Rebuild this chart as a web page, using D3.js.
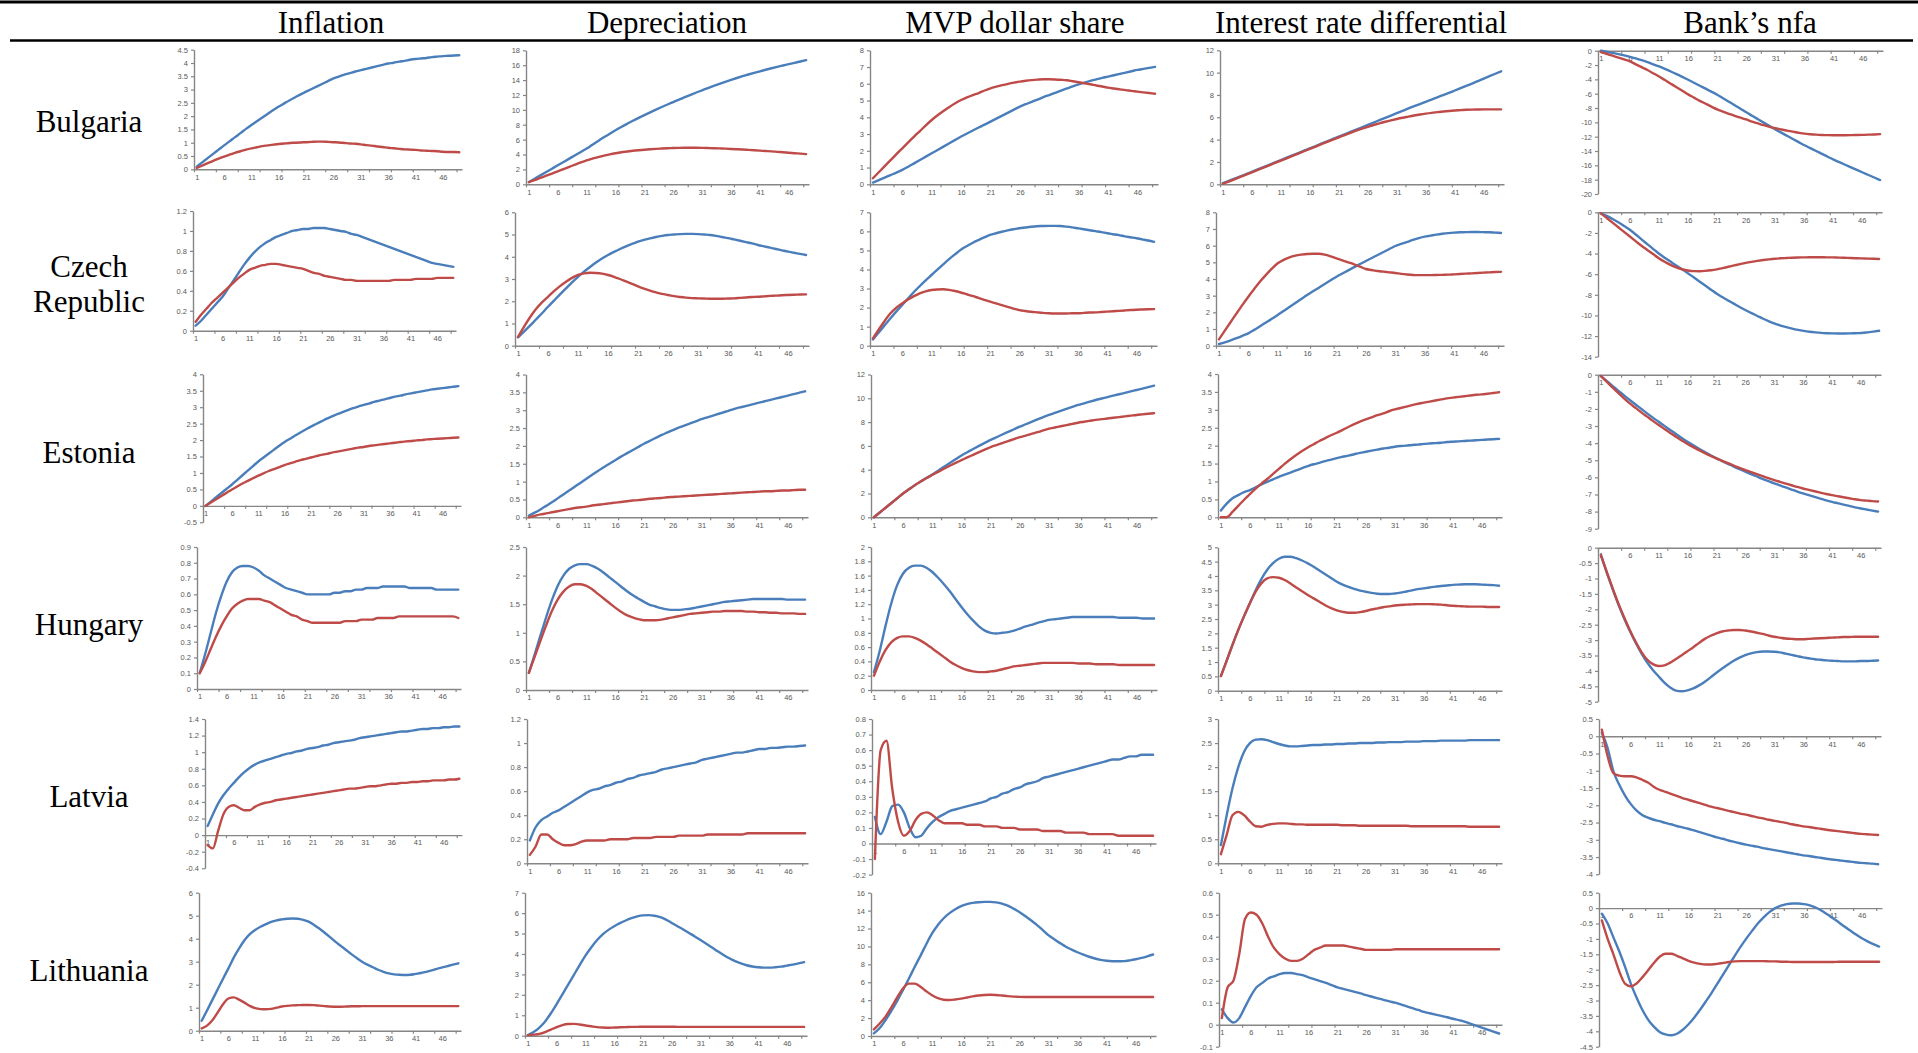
<!DOCTYPE html>
<html><head><meta charset="utf-8">
<script src="https://cdn.jsdelivr.net/npm/d3@7"></script>
<style>body{margin:0;background:#fff;} svg{display:block;}</style>
</head><body>
<svg id="c" width="1918" height="1053"></svg>
<script>
// ---------- DATA ----------
const periods = [1,2,3,4,5,6,7,8,9,10,11,12,13,14,15,16,17,18,19,20,21,22,23,24,25,26,27,28,29,30,31,32,33,34,35,36,37,38,39,40,41,42,43,44,45,46,47,48,49];
const xTickLabels = ["1","6","11","16","21","26","31","36","41","46"];
const variables = ["Inflation","Depreciation","MVP dollar share","Interest rate differential","Bank\u2019s nfa"];
const countries = [["Bulgaria"],["Czech","Republic"],["Estonia"],["Hungary"],["Latvia"],["Lithuania"]];

// y axis ranges [min, max, step]
const bgY = [[0,4.5,0.5],[0,18,2],[0,8,1],[0,12,2],[-20,0,2]];
const czY = [[0,1.2,0.2],[0,6,1],[0,7,1],[0,8,1],[-14,0,2]];
const eeY = [[-0.5,4,0.5],[0,4,0.5],[0,12,2],[0,4,0.5],[-9,0,1]];
const huY = [[0,0.9,0.1],[0,2.5,0.5],[0,2,0.2],[0,5,0.5],[-5,0,0.5]];
const lvY = [[-0.4,1.4,0.2],[0,1.2,0.2],[-0.2,0.8,0.1],[0,3,0.5],[-4,0.5,0.5]];
const ltY = [[0,6,1],[0,7,1],[0,16,2],[-0.1,0.6,0.1],[-4.5,0.5,0.5]];

// Bulgaria
const bgInflBlue = [0.10,0.26,0.42,0.58,0.74,0.90,1.05,1.21,1.36,1.52,1.67,1.81,1.95,2.09,2.23,2.36,2.48,2.60,2.71,2.82,2.92,3.02,3.12,3.22,3.32,3.42,3.49,3.56,3.62,3.68,3.73,3.78,3.83,3.88,3.93,3.98,4.01,4.05,4.08,4.12,4.15,4.17,4.19,4.22,4.24,4.26,4.27,4.28,4.29];
const bgInflRed = [0.05,0.14,0.23,0.32,0.40,0.48,0.55,0.62,0.68,0.74,0.79,0.83,0.87,0.90,0.93,0.95,0.97,0.99,1.00,1.01,1.02,1.03,1.04,1.04,1.03,1.02,1.01,0.99,0.97,0.96,0.94,0.91,0.89,0.86,0.84,0.81,0.79,0.77,0.75,0.74,0.73,0.71,0.70,0.69,0.68,0.66,0.65,0.65,0.64];
const bgDepBlue = [0.30,0.75,1.20,1.65,2.10,2.55,3.00,3.45,3.90,4.35,4.80,5.32,5.83,6.32,6.80,7.26,7.70,8.12,8.53,8.92,9.30,9.67,10.03,10.38,10.72,11.05,11.38,11.70,12.02,12.33,12.63,12.93,13.22,13.50,13.77,14.03,14.28,14.52,14.75,14.97,15.18,15.39,15.59,15.78,15.96,16.14,16.32,16.50,16.68];
const bgDepRed = [0.30,0.55,0.85,1.15,1.45,1.75,2.05,2.35,2.65,2.95,3.20,3.45,3.65,3.85,4.02,4.17,4.30,4.40,4.50,4.58,4.65,4.71,4.76,4.80,4.84,4.87,4.89,4.90,4.90,4.90,4.89,4.87,4.85,4.82,4.79,4.75,4.71,4.67,4.62,4.57,4.52,4.47,4.42,4.36,4.30,4.24,4.18,4.12,4.06];
const bgMvpBlue = [0.10,0.25,0.40,0.55,0.70,0.86,1.05,1.25,1.45,1.65,1.85,2.05,2.25,2.45,2.65,2.85,3.03,3.21,3.39,3.56,3.74,3.92,4.10,4.28,4.46,4.64,4.78,4.92,5.06,5.20,5.33,5.46,5.59,5.72,5.85,5.97,6.07,6.17,6.26,6.35,6.43,6.51,6.59,6.67,6.75,6.83,6.89,6.95,7.01];
const bgMvpRed = [0.36,0.72,1.08,1.44,1.80,2.15,2.50,2.85,3.18,3.52,3.84,4.12,4.38,4.62,4.84,5.03,5.19,5.33,5.45,5.60,5.73,5.83,5.92,6.00,6.07,6.13,6.18,6.22,6.25,6.27,6.27,6.26,6.24,6.21,6.15,6.09,6.03,5.97,5.90,5.84,5.77,5.72,5.67,5.62,5.58,5.53,5.49,5.45,5.41];
const bgIntBlue = [0.10,0.30,0.50,0.71,0.91,1.12,1.33,1.54,1.75,1.96,2.17,2.38,2.59,2.80,3.01,3.22,3.43,3.64,3.85,4.06,4.27,4.48,4.69,4.90,5.11,5.32,5.53,5.74,5.95,6.16,6.37,6.58,6.79,6.99,7.19,7.39,7.59,7.79,7.99,8.19,8.40,8.61,8.82,9.02,9.24,9.46,9.68,9.90,10.12];
const bgIntRed = [0.05,0.25,0.45,0.66,0.86,1.07,1.28,1.49,1.70,1.91,2.12,2.33,2.54,2.75,2.96,3.17,3.38,3.59,3.80,4.00,4.20,4.41,4.61,4.80,4.98,5.15,5.31,5.46,5.60,5.73,5.85,5.96,6.06,6.16,6.25,6.33,6.40,6.46,6.52,6.57,6.61,6.64,6.67,6.69,6.70,6.71,6.71,6.71,6.71];
const bgNfaBlue = [0,-0.15,-0.3,-0.47,-0.65,-0.85,-1.08,-1.33,-1.6,-1.9,-2.2,-2.54,-2.9,-3.27,-3.66,-4.06,-4.47,-4.89,-5.3,-5.72,-6.14,-6.63,-7.12,-7.61,-8.1,-8.6,-9.08,-9.56,-10.04,-10.52,-11.0,-11.44,-11.88,-12.32,-12.76,-13.2,-13.6,-14.0,-14.4,-14.8,-15.2,-15.56,-15.92,-16.28,-16.64,-17.0,-17.35,-17.7,-18.05];
const bgNfaRed = [-0.2,-0.45,-0.7,-0.96,-1.22,-1.5,-1.9,-2.3,-2.7,-3.15,-3.6,-4.1,-4.6,-5.1,-5.6,-6.1,-6.55,-7.0,-7.4,-7.8,-8.2,-8.5,-8.8,-9.1,-9.35,-9.6,-9.9,-10.15,-10.4,-10.62,-10.82,-11.0,-11.15,-11.3,-11.45,-11.58,-11.66,-11.72,-11.76,-11.79,-11.8,-11.8,-11.8,-11.79,-11.77,-11.75,-11.72,-11.69,-11.65];

// Czech Republic
const czInflBlue = [0.05,0.10,0.16,0.22,0.28,0.34,0.42,0.50,0.58,0.66,0.73,0.79,0.84,0.88,0.91,0.94,0.96,0.98,1.00,1.01,1.02,1.02,1.03,1.03,1.03,1.02,1.01,1.00,0.99,0.97,0.96,0.94,0.92,0.90,0.88,0.86,0.84,0.82,0.80,0.78,0.76,0.74,0.72,0.70,0.68,0.67,0.66,0.65,0.64];
const czInflRed = [0.09,0.16,0.22,0.28,0.33,0.38,0.43,0.48,0.53,0.57,0.61,0.63,0.65,0.66,0.67,0.67,0.66,0.65,0.64,0.63,0.62,0.60,0.58,0.57,0.55,0.54,0.53,0.52,0.51,0.51,0.50,0.50,0.50,0.50,0.50,0.50,0.50,0.51,0.51,0.51,0.51,0.52,0.52,0.52,0.52,0.53,0.53,0.53,0.53];
const czDepBlue = [0.37,0.63,0.90,1.18,1.46,1.75,2.03,2.31,2.58,2.85,3.10,3.33,3.54,3.74,3.92,4.08,4.22,4.35,4.47,4.58,4.68,4.76,4.83,4.89,4.94,4.98,5.00,5.02,5.03,5.03,5.02,5.00,4.98,4.94,4.89,4.84,4.78,4.72,4.66,4.60,4.53,4.47,4.41,4.35,4.29,4.23,4.18,4.13,4.08];
const czDepRed = [0.40,0.85,1.28,1.65,1.95,2.20,2.45,2.68,2.88,3.05,3.18,3.25,3.28,3.27,3.24,3.18,3.10,3.00,2.89,2.78,2.67,2.57,2.48,2.40,2.33,2.28,2.23,2.19,2.16,2.14,2.13,2.12,2.11,2.11,2.11,2.12,2.13,2.15,2.17,2.19,2.20,2.22,2.24,2.25,2.27,2.28,2.29,2.30,2.31];
const czMvpBlue = [0.33,0.70,1.07,1.44,1.80,2.14,2.48,2.82,3.13,3.43,3.71,3.99,4.27,4.54,4.79,5.03,5.22,5.39,5.54,5.68,5.81,5.90,5.98,6.05,6.11,6.16,6.20,6.24,6.27,6.28,6.29,6.29,6.28,6.25,6.21,6.16,6.11,6.06,6.01,5.96,5.90,5.85,5.80,5.74,5.69,5.64,5.58,5.52,5.45];
const czMvpRed = [0.38,0.85,1.30,1.70,2.00,2.22,2.42,2.60,2.75,2.85,2.92,2.95,2.96,2.93,2.87,2.79,2.70,2.61,2.51,2.41,2.31,2.22,2.13,2.04,1.95,1.87,1.82,1.78,1.75,1.72,1.70,1.69,1.69,1.69,1.70,1.70,1.72,1.74,1.75,1.77,1.79,1.81,1.83,1.85,1.87,1.89,1.90,1.91,1.92];
const czIntBlue = [0.10,0.20,0.32,0.45,0.59,0.74,0.95,1.17,1.39,1.61,1.84,2.08,2.32,2.56,2.80,3.04,3.26,3.48,3.70,3.92,4.14,4.33,4.52,4.71,4.90,5.08,5.26,5.44,5.62,5.80,5.98,6.10,6.22,6.34,6.45,6.54,6.60,6.66,6.71,6.75,6.78,6.80,6.81,6.82,6.82,6.81,6.80,6.78,6.76];
const czIntRed = [0.38,0.90,1.42,1.94,2.45,2.94,3.40,3.85,4.25,4.62,4.94,5.15,5.30,5.40,5.46,5.50,5.51,5.51,5.46,5.36,5.24,5.12,5.00,4.88,4.74,4.60,4.54,4.48,4.44,4.40,4.36,4.31,4.27,4.24,4.23,4.23,4.23,4.24,4.25,4.26,4.28,4.30,4.32,4.34,4.36,4.38,4.40,4.42,4.43];
const czNfaBlue = [-0.10,-0.35,-0.65,-0.97,-1.32,-1.70,-2.15,-2.62,-3.08,-3.54,-4.00,-4.40,-4.78,-5.16,-5.53,-5.90,-6.30,-6.70,-7.10,-7.50,-7.90,-8.24,-8.56,-8.88,-9.20,-9.50,-9.78,-10.05,-10.32,-10.57,-10.80,-10.98,-11.14,-11.28,-11.40,-11.50,-11.58,-11.64,-11.69,-11.72,-11.74,-11.75,-11.75,-11.74,-11.72,-11.70,-11.64,-11.57,-11.49];
const czNfaRed = [-0.10,-0.55,-1.00,-1.45,-1.90,-2.35,-2.80,-3.25,-3.65,-4.05,-4.45,-4.80,-5.10,-5.35,-5.52,-5.64,-5.70,-5.71,-5.68,-5.62,-5.53,-5.41,-5.28,-5.15,-5.02,-4.90,-4.80,-4.71,-4.63,-4.56,-4.50,-4.46,-4.43,-4.40,-4.38,-4.37,-4.36,-4.36,-4.36,-4.37,-4.37,-4.39,-4.41,-4.43,-4.45,-4.47,-4.49,-4.51,-4.53];

// Estonia
const eeInflBlue = [0.00,0.13,0.26,0.39,0.52,0.65,0.79,0.93,1.07,1.21,1.35,1.47,1.59,1.71,1.83,1.94,2.04,2.14,2.23,2.32,2.41,2.49,2.57,2.65,2.72,2.79,2.85,2.91,2.97,3.02,3.07,3.11,3.16,3.20,3.24,3.28,3.32,3.35,3.39,3.42,3.45,3.48,3.51,3.54,3.56,3.58,3.60,3.62,3.64];
const eeInflRed = [0.00,0.10,0.20,0.30,0.40,0.50,0.59,0.68,0.76,0.84,0.92,0.99,1.06,1.12,1.18,1.24,1.29,1.34,1.39,1.43,1.47,1.51,1.55,1.58,1.62,1.65,1.68,1.71,1.74,1.77,1.79,1.82,1.84,1.86,1.88,1.90,1.92,1.94,1.96,1.97,1.99,2.00,2.02,2.03,2.04,2.05,2.06,2.07,2.08];
const eeDepBlue = [0.05,0.13,0.22,0.32,0.42,0.53,0.64,0.75,0.86,0.97,1.08,1.19,1.30,1.40,1.50,1.60,1.70,1.79,1.88,1.97,2.06,2.14,2.22,2.30,2.37,2.44,2.51,2.57,2.63,2.69,2.75,2.80,2.85,2.90,2.95,3.00,3.05,3.09,3.13,3.17,3.21,3.25,3.29,3.33,3.37,3.41,3.45,3.49,3.53];
const eeDepRed = [0.00,0.04,0.08,0.11,0.14,0.17,0.20,0.23,0.26,0.28,0.30,0.33,0.35,0.37,0.39,0.41,0.43,0.45,0.47,0.48,0.50,0.52,0.53,0.54,0.56,0.57,0.58,0.59,0.60,0.61,0.62,0.63,0.64,0.65,0.66,0.67,0.68,0.69,0.70,0.71,0.72,0.73,0.73,0.74,0.75,0.75,0.76,0.77,0.77];
const eeMvpBlue = [0.0,0.4,0.8,1.2,1.6,2.0,2.35,2.7,3.0,3.3,3.6,3.92,4.24,4.56,4.88,5.2,5.47,5.74,6.0,6.25,6.5,6.73,6.96,7.18,7.4,7.62,7.82,8.02,8.22,8.42,8.6,8.77,8.94,9.11,9.28,9.44,9.58,9.72,9.86,9.98,10.1,10.22,10.34,10.46,10.58,10.7,10.82,10.94,11.06];
const eeMvpRed = [0.0,0.4,0.8,1.2,1.6,2.0,2.35,2.7,3.0,3.3,3.55,3.82,4.08,4.33,4.57,4.8,5.03,5.25,5.47,5.68,5.9,6.07,6.24,6.41,6.57,6.73,6.87,7.01,7.15,7.3,7.45,7.55,7.65,7.75,7.85,7.95,8.03,8.11,8.19,8.25,8.3,8.36,8.42,8.48,8.54,8.6,8.65,8.7,8.75];
const eeIntBlue = [0.19,0.38,0.53,0.62,0.70,0.76,0.84,0.92,0.99,1.06,1.13,1.19,1.25,1.31,1.37,1.43,1.48,1.52,1.57,1.61,1.65,1.69,1.72,1.76,1.80,1.83,1.86,1.89,1.92,1.94,1.97,1.99,2.00,2.02,2.03,2.05,2.06,2.07,2.08,2.10,2.11,2.12,2.13,2.14,2.15,2.16,2.17,2.18,2.19];
const eeIntRed = [0.00,0.00,0.15,0.32,0.49,0.65,0.80,0.94,1.07,1.21,1.35,1.49,1.62,1.74,1.85,1.95,2.04,2.13,2.21,2.29,2.36,2.44,2.52,2.60,2.67,2.73,2.79,2.85,2.90,2.96,3.01,3.05,3.09,3.13,3.17,3.20,3.23,3.26,3.29,3.32,3.34,3.36,3.38,3.40,3.42,3.43,3.45,3.47,3.49];
const eeNfaBlue = [-0.08,-0.37,-0.65,-0.93,-1.21,-1.48,-1.74,-2.00,-2.26,-2.51,-2.75,-2.99,-3.23,-3.47,-3.70,-3.92,-4.13,-4.33,-4.52,-4.71,-4.89,-5.05,-5.21,-5.37,-5.52,-5.67,-5.81,-5.95,-6.09,-6.22,-6.35,-6.47,-6.59,-6.71,-6.83,-6.94,-7.04,-7.14,-7.24,-7.34,-7.43,-7.51,-7.59,-7.67,-7.75,-7.82,-7.88,-7.94,-8.00];
const eeNfaRed = [-0.08,-0.41,-0.74,-1.06,-1.38,-1.68,-1.94,-2.20,-2.45,-2.70,-2.94,-3.17,-3.40,-3.62,-3.84,-4.05,-4.23,-4.41,-4.58,-4.74,-4.89,-5.03,-5.17,-5.31,-5.44,-5.57,-5.69,-5.81,-5.93,-6.05,-6.16,-6.26,-6.36,-6.46,-6.56,-6.65,-6.73,-6.81,-6.89,-6.97,-7.04,-7.10,-7.16,-7.22,-7.28,-7.33,-7.36,-7.39,-7.41];

// Hungary
const huInflBlue = [0.10,0.22,0.35,0.48,0.59,0.68,0.74,0.77,0.78,0.78,0.77,0.75,0.72,0.70,0.68,0.66,0.64,0.63,0.62,0.61,0.60,0.60,0.60,0.60,0.60,0.61,0.61,0.62,0.62,0.63,0.63,0.64,0.64,0.64,0.65,0.65,0.65,0.65,0.65,0.64,0.64,0.64,0.64,0.64,0.63,0.63,0.63,0.63,0.63];
const huInflRed = [0.10,0.17,0.25,0.33,0.40,0.46,0.51,0.54,0.56,0.57,0.57,0.57,0.56,0.55,0.53,0.51,0.49,0.47,0.46,0.44,0.43,0.42,0.42,0.42,0.42,0.42,0.42,0.43,0.43,0.43,0.44,0.44,0.44,0.45,0.45,0.45,0.45,0.46,0.46,0.46,0.46,0.46,0.46,0.46,0.46,0.46,0.46,0.46,0.45];
const huDepBlue = [0.30,0.62,0.95,1.27,1.57,1.82,2.00,2.12,2.18,2.20,2.20,2.17,2.12,2.05,1.97,1.89,1.81,1.73,1.66,1.60,1.54,1.49,1.46,1.43,1.41,1.40,1.40,1.41,1.42,1.44,1.46,1.48,1.50,1.52,1.54,1.55,1.56,1.57,1.58,1.59,1.59,1.59,1.59,1.59,1.59,1.58,1.58,1.58,1.58];
const huDepRed = [0.30,0.58,0.86,1.13,1.38,1.58,1.72,1.81,1.85,1.85,1.82,1.76,1.68,1.60,1.52,1.44,1.37,1.31,1.27,1.24,1.22,1.22,1.22,1.23,1.25,1.27,1.29,1.31,1.33,1.34,1.35,1.36,1.37,1.37,1.38,1.38,1.38,1.38,1.37,1.37,1.36,1.36,1.35,1.35,1.34,1.34,1.34,1.33,1.33];
const huMvpBlue = [0.25,0.55,0.90,1.22,1.47,1.63,1.71,1.74,1.74,1.71,1.65,1.57,1.48,1.38,1.27,1.16,1.06,0.97,0.89,0.83,0.80,0.79,0.80,0.81,0.83,0.86,0.89,0.91,0.94,0.96,0.98,0.99,1.00,1.01,1.02,1.02,1.02,1.02,1.02,1.02,1.02,1.02,1.01,1.01,1.01,1.01,1.00,1.00,1.00];
const huMvpRed = [0.20,0.40,0.56,0.67,0.73,0.75,0.75,0.73,0.69,0.64,0.58,0.52,0.46,0.40,0.35,0.31,0.28,0.26,0.25,0.25,0.26,0.27,0.29,0.31,0.33,0.34,0.35,0.36,0.37,0.38,0.38,0.38,0.38,0.38,0.38,0.37,0.37,0.37,0.36,0.36,0.36,0.36,0.35,0.35,0.35,0.35,0.35,0.35,0.35];
const huIntBlue = [0.51,1.05,1.60,2.12,2.60,3.05,3.50,3.90,4.22,4.45,4.60,4.67,4.67,4.62,4.54,4.44,4.32,4.19,4.06,3.93,3.80,3.70,3.62,3.55,3.49,3.45,3.41,3.38,3.37,3.37,3.39,3.42,3.46,3.50,3.54,3.57,3.60,3.63,3.65,3.67,3.69,3.70,3.71,3.71,3.71,3.70,3.69,3.68,3.66];
const huIntRed = [0.51,1.05,1.60,2.12,2.60,3.05,3.45,3.75,3.92,3.96,3.94,3.86,3.74,3.60,3.47,3.34,3.22,3.10,2.98,2.88,2.80,2.75,2.72,2.72,2.74,2.78,2.83,2.87,2.91,2.94,2.97,2.99,3.00,3.01,3.02,3.02,3.02,3.01,3.00,2.98,2.96,2.95,2.94,2.93,2.93,2.93,2.92,2.92,2.92];
const huNfaBlue = [-0.24,-0.80,-1.33,-1.83,-2.28,-2.70,-3.08,-3.42,-3.72,-3.97,-4.18,-4.38,-4.54,-4.64,-4.66,-4.63,-4.57,-4.47,-4.35,-4.21,-4.06,-3.92,-3.79,-3.67,-3.57,-3.49,-3.43,-3.39,-3.37,-3.37,-3.38,-3.40,-3.44,-3.48,-3.52,-3.56,-3.59,-3.62,-3.64,-3.66,-3.67,-3.68,-3.69,-3.69,-3.69,-3.68,-3.68,-3.67,-3.66];
const huNfaRed = [-0.24,-0.78,-1.30,-1.80,-2.25,-2.67,-3.05,-3.38,-3.63,-3.78,-3.84,-3.82,-3.73,-3.61,-3.49,-3.36,-3.23,-3.09,-2.96,-2.86,-2.78,-2.72,-2.69,-2.67,-2.67,-2.69,-2.72,-2.76,-2.80,-2.85,-2.89,-2.92,-2.95,-2.96,-2.97,-2.97,-2.96,-2.95,-2.94,-2.93,-2.92,-2.91,-2.90,-2.90,-2.89,-2.89,-2.89,-2.89,-2.89];

// Latvia
const lvInflBlue = [0.11,0.25,0.38,0.48,0.56,0.63,0.70,0.76,0.81,0.85,0.88,0.90,0.92,0.94,0.96,0.98,0.99,1.01,1.02,1.04,1.05,1.06,1.08,1.09,1.11,1.12,1.13,1.14,1.15,1.17,1.18,1.19,1.20,1.21,1.22,1.23,1.24,1.25,1.25,1.26,1.27,1.28,1.28,1.29,1.29,1.30,1.30,1.31,1.31];
const lvInflRed = [-0.12,-0.16,0.05,0.25,0.34,0.36,0.33,0.30,0.30,0.34,0.37,0.39,0.40,0.42,0.43,0.44,0.45,0.46,0.47,0.48,0.49,0.50,0.51,0.52,0.53,0.54,0.55,0.56,0.56,0.57,0.58,0.59,0.59,0.60,0.61,0.62,0.62,0.63,0.63,0.64,0.64,0.65,0.65,0.66,0.66,0.66,0.67,0.67,0.68];
const lvDepBlue = [0.19,0.30,0.36,0.39,0.42,0.44,0.47,0.50,0.53,0.56,0.59,0.61,0.62,0.64,0.65,0.67,0.68,0.70,0.71,0.73,0.74,0.75,0.76,0.78,0.79,0.80,0.81,0.82,0.83,0.84,0.86,0.87,0.88,0.89,0.90,0.91,0.92,0.92,0.93,0.94,0.95,0.95,0.96,0.96,0.965,0.97,0.97,0.975,0.98];
const lvDepRed = [0.07,0.14,0.24,0.24,0.20,0.17,0.15,0.15,0.16,0.18,0.19,0.19,0.19,0.19,0.20,0.20,0.20,0.20,0.21,0.21,0.21,0.21,0.22,0.22,0.22,0.22,0.23,0.23,0.23,0.23,0.23,0.24,0.24,0.24,0.24,0.24,0.24,0.24,0.25,0.25,0.25,0.25,0.25,0.25,0.25,0.25,0.25,0.25,0.25];
const lvMvpBlue = [0.17,0.06,0.14,0.24,0.25,0.20,0.10,0.04,0.05,0.10,0.14,0.17,0.19,0.21,0.22,0.23,0.24,0.25,0.26,0.27,0.29,0.30,0.32,0.33,0.35,0.36,0.38,0.39,0.40,0.42,0.43,0.44,0.45,0.46,0.47,0.48,0.49,0.50,0.51,0.52,0.53,0.54,0.54,0.55,0.56,0.56,0.57,0.57,0.57];
const lvMvpRed = [-0.10,0.60,0.66,0.35,0.14,0.05,0.08,0.15,0.19,0.20,0.18,0.15,0.13,0.13,0.13,0.13,0.12,0.12,0.12,0.11,0.11,0.11,0.10,0.10,0.10,0.09,0.09,0.09,0.09,0.08,0.08,0.08,0.08,0.07,0.07,0.07,0.07,0.06,0.06,0.06,0.06,0.06,0.05,0.05,0.05,0.05,0.05,0.05,0.05];
const lvIntBlue = [0.38,1.00,1.56,2.00,2.32,2.50,2.57,2.58,2.56,2.52,2.48,2.45,2.43,2.43,2.44,2.45,2.46,2.46,2.47,2.47,2.48,2.48,2.49,2.49,2.50,2.50,2.50,2.51,2.51,2.52,2.52,2.52,2.53,2.53,2.53,2.54,2.54,2.54,2.55,2.55,2.55,2.55,2.55,2.56,2.56,2.56,2.56,2.56,2.56];
const lvIntRed = [0.19,0.59,1.00,1.07,1.00,0.87,0.77,0.76,0.80,0.82,0.83,0.83,0.82,0.81,0.81,0.80,0.80,0.80,0.80,0.80,0.80,0.79,0.79,0.79,0.78,0.78,0.78,0.78,0.78,0.78,0.78,0.78,0.78,0.77,0.77,0.77,0.77,0.77,0.77,0.77,0.77,0.77,0.77,0.76,0.76,0.76,0.76,0.76,0.76];
const lvNfaBlue = [0.10,-0.34,-1.01,-1.40,-1.71,-1.96,-2.15,-2.28,-2.36,-2.42,-2.46,-2.51,-2.55,-2.60,-2.64,-2.68,-2.73,-2.78,-2.83,-2.88,-2.93,-2.97,-3.02,-3.06,-3.10,-3.14,-3.17,-3.20,-3.24,-3.27,-3.30,-3.33,-3.36,-3.39,-3.42,-3.45,-3.47,-3.50,-3.52,-3.55,-3.57,-3.59,-3.61,-3.63,-3.65,-3.67,-3.68,-3.69,-3.71];
const lvNfaRed = [0.19,-0.58,-1.07,-1.14,-1.16,-1.16,-1.19,-1.26,-1.34,-1.46,-1.55,-1.61,-1.67,-1.73,-1.79,-1.84,-1.89,-1.94,-1.99,-2.04,-2.08,-2.12,-2.16,-2.20,-2.24,-2.27,-2.31,-2.35,-2.38,-2.42,-2.45,-2.48,-2.51,-2.55,-2.58,-2.61,-2.63,-2.66,-2.68,-2.71,-2.73,-2.75,-2.77,-2.79,-2.81,-2.83,-2.84,-2.85,-2.86];

// Lithuania
const ltInflBlue = [0.43,0.88,1.34,1.80,2.26,2.71,3.18,3.58,3.93,4.20,4.38,4.52,4.63,4.73,4.80,4.84,4.87,4.88,4.87,4.82,4.74,4.60,4.44,4.26,4.07,3.87,3.69,3.51,3.33,3.16,3.00,2.87,2.76,2.65,2.56,2.49,2.45,2.43,2.42,2.43,2.47,2.51,2.56,2.62,2.69,2.75,2.81,2.87,2.93];
const ltInflRed = [0.10,0.22,0.45,0.80,1.15,1.40,1.45,1.35,1.22,1.08,0.98,0.94,0.93,0.95,1.00,1.05,1.08,1.10,1.11,1.12,1.12,1.11,1.09,1.07,1.05,1.04,1.04,1.05,1.06,1.06,1.07,1.07,1.07,1.07,1.07,1.07,1.07,1.07,1.07,1.07,1.07,1.07,1.07,1.07,1.07,1.07,1.07,1.07,1.07];
const ltDepBlue = [0.03,0.18,0.40,0.70,1.10,1.55,2.02,2.50,2.98,3.46,3.92,4.32,4.67,4.96,5.18,5.36,5.51,5.64,5.75,5.84,5.89,5.90,5.87,5.80,5.68,5.52,5.36,5.20,5.03,4.86,4.68,4.50,4.32,4.13,3.95,3.79,3.65,3.54,3.45,3.39,3.35,3.33,3.33,3.35,3.38,3.43,3.48,3.54,3.60];
const ltDepRed = [0.03,0.05,0.09,0.18,0.30,0.42,0.52,0.57,0.58,0.55,0.50,0.46,0.42,0.40,0.39,0.40,0.41,0.42,0.43,0.43,0.44,0.44,0.44,0.44,0.44,0.44,0.43,0.43,0.43,0.43,0.43,0.43,0.43,0.43,0.43,0.43,0.43,0.43,0.43,0.43,0.43,0.43,0.43,0.43,0.43,0.43,0.43,0.43,0.43];
const ltMvpBlue = [0.30,0.90,1.78,2.80,3.92,5.13,6.40,7.70,8.95,10.25,11.45,12.40,13.15,13.72,14.15,14.50,14.72,14.86,14.94,14.98,14.98,14.92,14.78,14.55,14.22,13.85,13.40,12.92,12.40,11.85,11.26,10.80,10.37,9.97,9.65,9.35,9.08,8.85,8.65,8.50,8.40,8.35,8.34,8.36,8.45,8.57,8.72,8.90,9.10];
const ltMvpRed = [0.74,1.40,2.16,3.20,4.30,5.30,5.85,5.85,5.50,5.00,4.55,4.22,4.05,4.02,4.08,4.18,4.30,4.42,4.52,4.58,4.60,4.58,4.52,4.45,4.40,4.37,4.35,4.35,4.35,4.36,4.36,4.36,4.36,4.36,4.36,4.36,4.36,4.36,4.36,4.36,4.36,4.36,4.36,4.36,4.36,4.36,4.36,4.36,4.36];
const ltIntBlue = [0.07,0.03,0.01,0.03,0.08,0.13,0.17,0.19,0.21,0.22,0.23,0.235,0.235,0.23,0.225,0.215,0.207,0.198,0.19,0.18,0.17,0.163,0.156,0.149,0.142,0.134,0.127,0.120,0.113,0.106,0.100,0.092,0.083,0.075,0.067,0.058,0.052,0.046,0.040,0.034,0.027,0.021,0.014,0.005,-0.004,-0.013,-0.022,-0.031,-0.040];
const ltIntRed = [0.03,0.17,0.20,0.32,0.48,0.51,0.50,0.46,0.40,0.35,0.32,0.30,0.29,0.29,0.30,0.32,0.34,0.35,0.36,0.36,0.36,0.36,0.355,0.35,0.345,0.34,0.34,0.34,0.34,0.34,0.343,0.343,0.343,0.343,0.343,0.343,0.343,0.343,0.343,0.343,0.343,0.343,0.343,0.343,0.343,0.343,0.343,0.343,0.343];
const ltNfaBlue = [-0.18,-0.50,-0.95,-1.40,-1.90,-2.45,-2.90,-3.30,-3.62,-3.85,-4.02,-4.10,-4.13,-4.08,-3.95,-3.77,-3.55,-3.30,-3.03,-2.75,-2.45,-2.15,-1.85,-1.55,-1.26,-0.99,-0.74,-0.50,-0.30,-0.13,0.00,0.08,0.13,0.15,0.15,0.13,0.09,0.02,-0.08,-0.20,-0.33,-0.46,-0.60,-0.73,-0.86,-0.98,-1.08,-1.17,-1.25];
const ltNfaRed = [-0.40,-1.00,-1.50,-2.05,-2.45,-2.54,-2.45,-2.25,-2.02,-1.78,-1.58,-1.48,-1.48,-1.55,-1.63,-1.71,-1.77,-1.81,-1.83,-1.83,-1.81,-1.78,-1.75,-1.73,-1.72,-1.72,-1.72,-1.72,-1.72,-1.73,-1.73,-1.74,-1.74,-1.75,-1.75,-1.75,-1.75,-1.75,-1.75,-1.75,-1.75,-1.74,-1.74,-1.74,-1.74,-1.74,-1.74,-1.74,-1.74];

// ---------- LAYOUT (positions only) ----------
const W = 1918, H = 1053;
const panelBoxes = [ // [xLeft, xRight, yTop, yBottom]
  [[194,462,49.7,169.3],[526,809,50.3,184.3],[870,1158,50.3,184.3],[1220,1504,50.3,184.3],[1598,1883,50.7,194]],
  [[193,456,211,330.7],[515,809,212.3,345.7],[870,1157,212.3,345.7],[1216,1504,212.3,345.7],[1598,1882,212.3,356.7]],
  [[203,461,374.3,522.3],[526,808,374.5,517.3],[871,1157,374.5,517.3],[1218,1502,374,517.3],[1598,1881,374.7,528.7]],
  [[197,461,547,689],[526,808,547,690],[871,1157,547,690],[1218,1502,547.3,690.7],[1598,1881,547.7,701.7]],
  [[205,462,719,868.3],[527,808,719,863.3],[872,1156,719,874.6],[1218,1502,719,863.3],[1599,1881,719,874.3]],
  [[199,461,892.7,1030.7],[525,807,892.7,1035.7],[871,1156,892.7,1036],[1219,1502,892.7,1046.7],[1599,1882,892.7,1046.7]]
];
const headerX = [331,667,1015,1361,1750];
const headerY = 32.5;
const rowLabelX = 89;
const rowLabelY = [[132],[277,312],[463],[635],[807],[981]];

const BLUE = "#4a7ebb", RED = "#be4b48", AXIS = "#868686", LABEL = "#595959";
const serif = "'Liberation Serif','Times New Roman',serif";

const series = [
  [[bgInflBlue,bgInflRed],[bgDepBlue,bgDepRed],[bgMvpBlue,bgMvpRed],[bgIntBlue,bgIntRed],[bgNfaBlue,bgNfaRed]],
  [[czInflBlue,czInflRed],[czDepBlue,czDepRed],[czMvpBlue,czMvpRed],[czIntBlue,czIntRed],[czNfaBlue,czNfaRed]],
  [[eeInflBlue,eeInflRed],[eeDepBlue,eeDepRed],[eeMvpBlue,eeMvpRed],[eeIntBlue,eeIntRed],[eeNfaBlue,eeNfaRed]],
  [[huInflBlue,huInflRed],[huDepBlue,huDepRed],[huMvpBlue,huMvpRed],[huIntBlue,huIntRed],[huNfaBlue,huNfaRed]],
  [[lvInflBlue,lvInflRed],[lvDepBlue,lvDepRed],[lvMvpBlue,lvMvpRed],[lvIntBlue,lvIntRed],[lvNfaBlue,lvNfaRed]],
  [[ltInflBlue,ltInflRed],[ltDepBlue,ltDepRed],[ltMvpBlue,ltMvpRed],[ltIntBlue,ltIntRed],[ltNfaBlue,ltNfaRed]]
];
const yAxes = [bgY, czY, eeY, huY, lvY, ltY];

// ---------- DRAW ----------
const svg = d3.select("#c");
svg.append("rect").attr("width", W).attr("height", H).attr("fill", "#fff");

svg.append("line").attr("x1", 0).attr("x2", W).attr("y1", 2).attr("y2", 2)
  .attr("stroke", "#000").attr("stroke-width", 3);
svg.append("line").attr("x1", 10).attr("x2", 1913).attr("y1", 40.5).attr("y2", 40.5)
  .attr("stroke", "#000").attr("stroke-width", 2.5);

variables.forEach((v, i) => {
  svg.append("text").attr("x", headerX[i]).attr("y", headerY)
    .attr("text-anchor", "middle").attr("font-family", serif).attr("font-size", 31)
    .attr("fill", "#000").text(v);
});

countries.forEach((lines, r) => {
  lines.forEach((t, k) => {
    svg.append("text").attr("x", rowLabelX).attr("y", rowLabelY[r][k])
      .attr("text-anchor", "middle").attr("font-family", serif).attr("font-size", 31)
      .attr("fill", "#000").text(t);
  });
});

const fmt = d => String(Math.round(d * 1000) / 1000);
const xLabelVals = xTickLabels.map(Number);

function styleAxis(g) {
  g.select(".domain").attr("stroke", AXIS).attr("stroke-width", 1.4);
  g.selectAll(".tick line").attr("stroke", AXIS).attr("stroke-width", 1.2);
  g.selectAll(".tick text").attr("fill", LABEL).attr("font-size", 7.5)
    .attr("font-family", "'Liberation Sans',Arial,sans-serif");
}

function drawPanel(box, ya, ser) {
  const [xl, xr, yt, yb] = box;
  const n = periods.length;
  const x = d3.scaleLinear().domain([0.5, n + 0.5]).range([xl, xr]);
  const y = d3.scaleLinear().domain([ya[0], ya[1]]).range([yb, yt]);
  const steps = Math.round((ya[1] - ya[0]) / ya[2]);
  const yTicks = d3.range(steps + 1).map(i => +(ya[0] + i * ya[2]).toFixed(4));
  const g = svg.append("g");

  const gy = g.append("g").attr("transform", `translate(${xl},0)`)
    .call(d3.axisLeft(y).tickValues(yTicks).tickSize(3).tickSizeOuter(0).tickPadding(3).tickFormat(fmt));
  styleAxis(gy);

  const y0 = y(0);
  const bounds = d3.range(0, n + 1, 4).map(k => k + 0.5);
  const gx = g.append("g").attr("transform", `translate(0,${y0})`)
    .call(d3.axisBottom(x).tickValues(bounds).tickSize(3).tickSizeOuter(0).tickFormat(""));
  styleAxis(gx);

  const gl = g.append("g").attr("transform", `translate(0,${y0})`)
    .call(d3.axisBottom(x).tickValues(xLabelVals).tickSize(0).tickPadding(5).tickFormat(d => String(d)));
  gl.select(".domain").remove();
  styleAxis(gl);

  const line = d3.line().x((d, i) => x(periods[i])).y(d => y(d)).curve(d3.curveMonotoneX);
  [[ser[0], BLUE], [ser[1], RED]].forEach(([vals, col]) => {
    g.append("path").datum(vals).attr("d", line).attr("fill", "none")
      .attr("stroke", col).attr("stroke-width", 2.4)
      .attr("stroke-linejoin", "round").attr("stroke-linecap", "round");
  });
}

panelBoxes.forEach((row, r) => row.forEach((box, c) => drawPanel(box, yAxes[r][c], series[r][c])));
</script>
</body></html>
